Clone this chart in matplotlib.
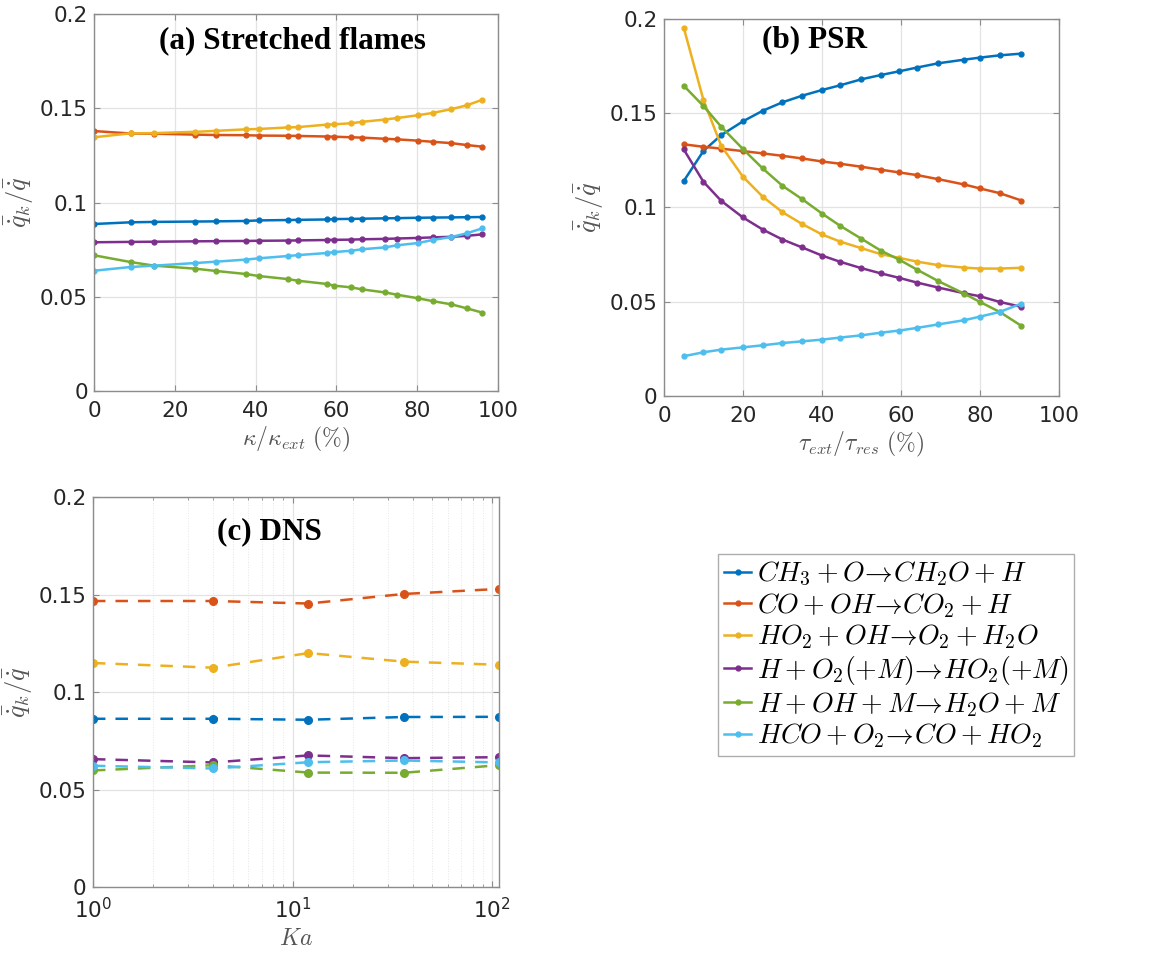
import numpy as np
import matplotlib
matplotlib.use('Agg')
import matplotlib.pyplot as plt

plt.rcParams['mathtext.fontset'] = 'cm'
plt.rcParams['font.family'] = 'DejaVu Sans'

# colours (MATLAB default order)
colors = ['#0072BD', '#D95319', '#EDB120', '#7E2F8E', '#77AC30', '#4DBEEE']
labels = [r'$CH_3+O\!\rightarrow\! CH_2O+H$',
          r'$CO+OH\!\rightarrow\! CO_2+H$',
          r'$HO_2+OH\!\rightarrow\! O_2+H_2O$',
          r'$H+O_2(+M)\!\rightarrow\! HO_2(+M)$',
          r'$H+OH+M\!\rightarrow\! H_2O+M$',
          r'$HCO+O_2\!\rightarrow\! CO+HO_2$']

# (a) stretched flames
kappa = [0, 9.1, 14.9, 25.1, 30.1, 37.5, 40.8, 47.9, 50.5, 57.6, 59.4, 63.6, 66.4,
         72.0, 75.0, 80.2, 83.8, 88.4, 92.2, 96.1]
a_ch3 = [0.0886, 0.0895, 0.0897, 0.0899, 0.0900, 0.0902, 0.0905, 0.0907, 0.0908, 0.0910,
         0.0912, 0.0913, 0.0914, 0.0916, 0.0917, 0.0919, 0.0920, 0.0921, 0.0922, 0.0923]
a_co = [0.1379, 0.1366, 0.1365, 0.1360, 0.1358, 0.1357, 0.1355, 0.1354, 0.1353, 0.1350,
        0.1349, 0.1346, 0.1344, 0.1338, 0.1335, 0.1328, 0.1322, 0.1315, 0.1305, 0.1296]
a_ho2 = [0.1346, 0.1367, 0.1368, 0.1375, 0.1380, 0.1388, 0.1390, 0.1398, 0.1400, 0.1413,
         0.1415, 0.1420, 0.1428, 0.1440, 0.1448, 0.1463, 0.1475, 0.1495, 0.1515, 0.1545]
a_h_o2 = [0.0789, 0.0791, 0.0792, 0.0794, 0.0795, 0.0796, 0.0797, 0.0798, 0.0799, 0.0801,
          0.0802, 0.0803, 0.0805, 0.0807, 0.0809, 0.0812, 0.0815, 0.0818, 0.0823, 0.0831]
a_h_oh = [0.0720, 0.0684, 0.0665, 0.0649, 0.0637, 0.0621, 0.0610, 0.0594, 0.0585, 0.0568,
          0.0559, 0.0550, 0.0539, 0.0523, 0.0511, 0.0492, 0.0477, 0.0460, 0.0439, 0.0416]
a_hco = [0.0638, 0.0658, 0.0665, 0.0679, 0.0686, 0.0697, 0.0704, 0.0716, 0.0721, 0.0732,
         0.0737, 0.0744, 0.0752, 0.0762, 0.0773, 0.0785, 0.0801, 0.0817, 0.0836, 0.0863]

# (b) PSR
tau = [5, 10, 14.5, 20, 25, 30, 35, 40, 44.6, 50, 55, 59.5, 64, 69.5, 76, 80, 85, 90.5]
b_ch3 = [0.1140, 0.1300, 0.1384, 0.1457, 0.1513, 0.1558, 0.1593, 0.1623, 0.1648, 0.1680,
         0.1703, 0.1722, 0.1742, 0.1765, 0.1784, 0.1795, 0.1807, 0.1816]
b_co = [0.1335, 0.1322, 0.1312, 0.1299, 0.1287, 0.1274, 0.1260, 0.1244, 0.1232, 0.1216,
        0.1200, 0.1186, 0.1172, 0.1150, 0.1122, 0.1101, 0.1076, 0.1037]
b_ho2 = [0.1954, 0.1570, 0.1327, 0.1163, 0.1057, 0.0975, 0.0912, 0.0857, 0.0819, 0.0784,
         0.0752, 0.0733, 0.0713, 0.0694, 0.0681, 0.0676, 0.0676, 0.0680]
b_h_o2 = [0.1308, 0.1136, 0.1035, 0.0947, 0.0883, 0.0830, 0.0788, 0.0745, 0.0712, 0.0678,
          0.0650, 0.0627, 0.0602, 0.0575, 0.0545, 0.0529, 0.0499, 0.0473]
b_h_oh = [0.1646, 0.1538, 0.1428, 0.1310, 0.1207, 0.1115, 0.1044, 0.0968, 0.0903, 0.0834,
          0.0770, 0.0724, 0.0671, 0.0609, 0.0543, 0.0499, 0.0446, 0.0372]
b_hco = [0.0211, 0.0232, 0.0246, 0.0258, 0.0269, 0.0281, 0.0290, 0.0299, 0.0310, 0.0322,
         0.0336, 0.0347, 0.0361, 0.0380, 0.0402, 0.0421, 0.0446, 0.0490]

# (c) DNS
Ka = [1, 4, 12, 36, 108]
c_ch3 = [0.0863, 0.0863, 0.0858, 0.0872, 0.0873]
c_co = [0.1467, 0.1467, 0.1454, 0.1503, 0.1529]
c_ho2 = [0.1149, 0.1125, 0.1200, 0.1156, 0.1140]
c_h_o2 = [0.0656, 0.0639, 0.0675, 0.0661, 0.0666]
c_h_oh = [0.0598, 0.0625, 0.0587, 0.0586, 0.0625]
c_hco = [0.0622, 0.0608, 0.0640, 0.0649, 0.0639]

fig = plt.figure(figsize=(11.62, 9.57), dpi=100)
ax_a = fig.add_axes([0.0809, 0.5914, 0.3477, 0.394])
ax_b = fig.add_axes([0.5714, 0.5862, 0.3399, 0.394])
ax_c = fig.add_axes([0.0800, 0.0731, 0.3494, 0.4075])

ylab = r'$\bar{\dot{q}}_k/\bar{\dot{q}}$'
tick_col = '#262626'
spine_col = '#8c8c8c'


def style_axes(ax, xlabel):
    ax.set_ylim(0, 0.2)
    ax.set_yticks([0, 0.05, 0.1, 0.15, 0.2])
    ax.set_yticklabels(['0', '0.05', '0.1', '0.15', '0.2'])
    ax.grid(True, which='major', color='#e3e3e3', lw=0.9)
    ax.set_axisbelow(True)
    for s in ax.spines.values():
        s.set_color(spine_col)
        s.set_linewidth(1.0)
    ax.tick_params(direction='in', length=4, width=0.8, colors=spine_col, pad=4.5,
                   labelcolor=tick_col, labelsize=15.5, top=True, right=True)
    ax.tick_params(axis='x', pad=7)
    ax.set_ylabel(ylab, fontsize=19, color='#555555', labelpad=3)
    ax.set_xlabel(xlabel, fontsize=17, color='#555555', labelpad=3)


series_a = [a_ch3, a_co, a_ho2, a_h_o2, a_h_oh, a_hco]
for y, c, lab in zip(series_a, colors, labels):
    ax_a.plot(kappa, y, '-', color=c, lw=1.8, marker='o', ms=3.5, label=lab)
ax_a.set_xlim(0, 100)
ax_a.set_xticks([0, 20, 40, 60, 80, 100])
style_axes(ax_a, r'$\kappa/\kappa_{ext}\ (\%)$')
ax_a.text(0.49, 0.93, '(a) Stretched flames', transform=ax_a.transAxes, ha='center', va='center',
          fontsize=22.5, fontweight='bold', family='Liberation Serif')

series_b = [b_ch3, b_co, b_ho2, b_h_o2, b_h_oh, b_hco]
for y, c in zip(series_b, colors):
    ax_b.plot(tau, y, '-', color=c, lw=1.8, marker='o', ms=3.5)
ax_b.set_xlim(0, 100)
ax_b.set_xticks([0, 20, 40, 60, 80, 100])
style_axes(ax_b, r'$\tau_{ext}/\tau_{res}\ (\%)$')
ax_b.text(0.38, 0.944, '(b) PSR', transform=ax_b.transAxes, ha='center', va='center',
          fontsize=22.5, fontweight='bold', family='Liberation Serif')

series_c = [c_ch3, c_co, c_ho2, c_h_o2, c_h_oh, c_hco]
for y, c in zip(series_c, colors):
    ax_c.plot(Ka, y, '--', color=c, lw=1.8, marker='o', ms=5.5, dashes=(5, 4))
ax_c.set_xscale('log')
ax_c.set_xlim(1, 108)
ax_c.set_xticks([1, 10, 100])
ax_c.set_xticklabels([r'$10^0$', r'$10^1$', r'$10^2$'])
style_axes(ax_c, r'$Ka$')
ax_c.grid(True, which='minor', axis='x', color='#e6e6e6', lw=0.7, ls=':')
ax_c.tick_params(which='minor', direction='in', length=2, colors=spine_col, top=True)
for t in ax_c.get_xticklabels():
    t.set_math_fontfamily('dejavusans')
ax_c.text(0.434, 0.91, '(c) DNS', transform=ax_c.transAxes, ha='center', va='center',
          fontsize=22.5, fontweight='bold', family='Liberation Serif')

handles, labs = ax_a.get_legend_handles_labels()
leg = fig.legend(handles, labs, loc='upper left', bbox_to_anchor=(0.618, 0.421),
                 fontsize=20, frameon=True, fancybox=False, edgecolor='#999999',
                 handlelength=1.0, handletextpad=0.2, labelspacing=0.1, borderpad=0.2,
                 borderaxespad=0)
leg.get_frame().set_linewidth(1.0)

fig.savefig('out.png', dpi=100)
